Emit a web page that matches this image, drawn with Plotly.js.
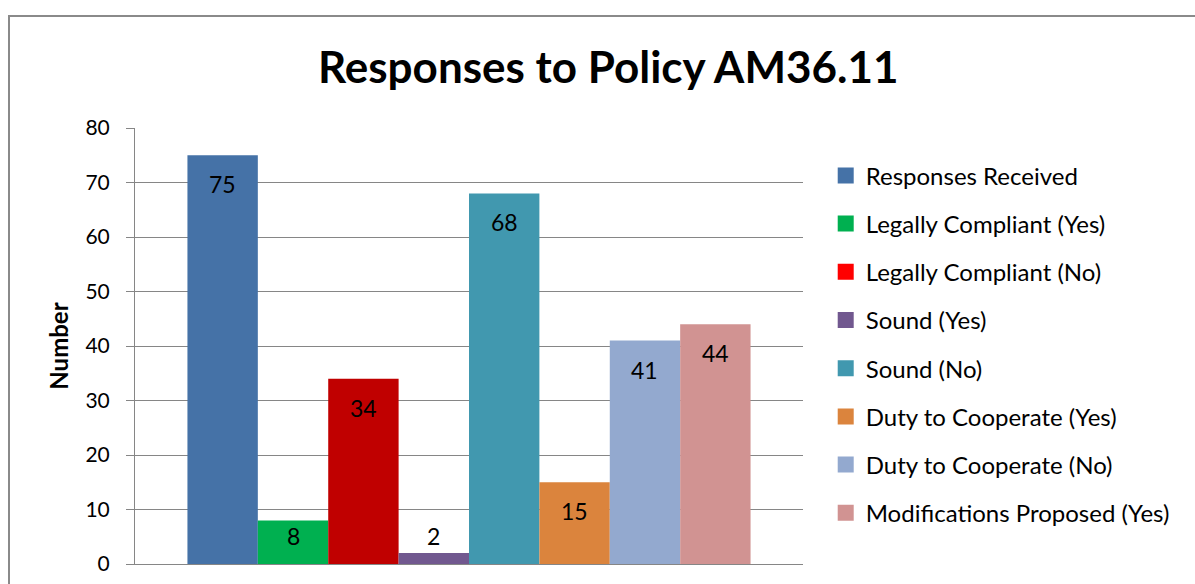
<!DOCTYPE html>
<html><head><meta charset="utf-8">
<script src="https://cdn.plot.ly/plotly-3.0.1.min.js"></script>
<style>
html,body{margin:0;padding:0;background:#fff;}
#wrap{position:relative;width:1195px;height:584px;overflow:hidden;}
#chart{position:absolute;left:0;top:0;width:1195px;height:584px;}
#border{position:absolute;left:8px;top:15px;width:1200px;height:600px;border:2px solid #8a8a8a;pointer-events:none;box-sizing:border-box;}
</style></head>
<body><div id="wrap"><div id="chart"></div><div id="border"></div></div>
<script>
const seriesNames = ["Responses Received","Legally Compliant (Yes)","Legally Compliant (No)","Sound (Yes)","Sound (No)","Duty to Cooperate (Yes)","Duty to Cooperate (No)","Modifications Proposed (Yes)"];
const seriesValues = [75, 8, 34, 2, 68, 15, 41, 44];
const barColors = ["#4572A7","#00B050","#C00000","#71588F","#4198AF","#DB843D","#93A9CF","#D19392"];
const legendColors = ["#4572A7","#00B050","#FF0000","#71588F","#4198AF","#DB843D","#93A9CF","#D19392"];
const category = ["Policy AM36.11"];
const yTicks = [0,10,20,30,40,50,60,70,80];

const FONT = "Lato, 'Open Sans', sans-serif";
const PLOT_H = 436, Y_MAX = 80, BARGAP = 0.157;
const pxPerUnit = PLOT_H / Y_MAX;
const nS = seriesValues.length;
const barW = (1 - BARGAP) / nS;

const traces = [];
seriesNames.forEach((n,i)=>{
  traces.push({
    type:'bar', x:category, y:[seriesValues[i]], name:n,
    marker:{color:barColors[i]}, showlegend:false, hoverinfo:'skip'
  });
});
seriesNames.forEach((n,i)=>{
  traces.push({
    type:'scatter', mode:'markers', x:[null], y:[null], name:n, xaxis:'x2', yaxis:'y2',
    marker:{color:legendColors[i], symbol:'square', size:16}, showlegend:true,
    legendgroup:'g'+i, hoverinfo:'skip'
  });
});

// data labels: Excel "inside end" style, clamped near the bar base
const annotations = seriesValues.map((v,i)=>{
  const barPx = v * pxPerUnit;
  const shift = -Math.min(29, barPx - 28);
  return {
    x: -0.5 + BARGAP/2 + (i + 0.5) * barW, xref:'x', y:v, yref:'y',
    text:String(v), showarrow:false, xanchor:'center', yanchor:'middle', yshift:shift,
    font:{family:FONT,size:23,color:'#000'}
  };
});

const layout = {
  width:1195, height:584,
  margin:{l:135, r:392, t:128, b:20},
  paper_bgcolor:'#fff', plot_bgcolor:'#fff',
  font:{family:FONT, size:20, color:'#000'},
  barmode:'group', bargap:BARGAP, bargroupgap:0,
  title:{text:'<b>Responses to Policy AM36.11</b>', font:{family:FONT,size:44,color:'#000'},
    x:0.509, xref:'container', xanchor:'center', y:0.884, yref:'container', yanchor:'middle'},
  xaxis:{type:'category', range:[-0.5,0.5], showticklabels:false, showline:true, linecolor:'#868686', linewidth:1, ticks:'', showgrid:false, zeroline:false},
  yaxis:{range:[0,Y_MAX], tickvals:yTicks, ticks:'outside', ticklen:8, tickcolor:'#868686',
    showline:true, linecolor:'#868686', linewidth:1, gridcolor:'#868686', gridwidth:1,
    zeroline:false, ticklabelstandoff:12, tickfont:{family:FONT,size:21,color:'#000'},
    title:{text:'<b>Number</b>', font:{family:FONT,size:24,color:'#000'}, standoff:10}},
  xaxis2:{overlaying:'x', visible:false, range:[0,1]},
  yaxis2:{overlaying:'y', visible:false, range:[0,1]},
  legend:{x:1.034, xanchor:'left', y:0.942, yanchor:'top', font:{family:FONT,size:24,color:'#000'},
    tracegroupgap:14, itemwidth:30, itemsizing:'trace', bgcolor:'rgba(0,0,0,0)', traceorder:'grouped'},
  annotations: annotations,
  showlegend:true
};
Plotly.newPlot('chart', traces, layout, {staticPlot:true, displayModeBar:false});
</script></body></html>
